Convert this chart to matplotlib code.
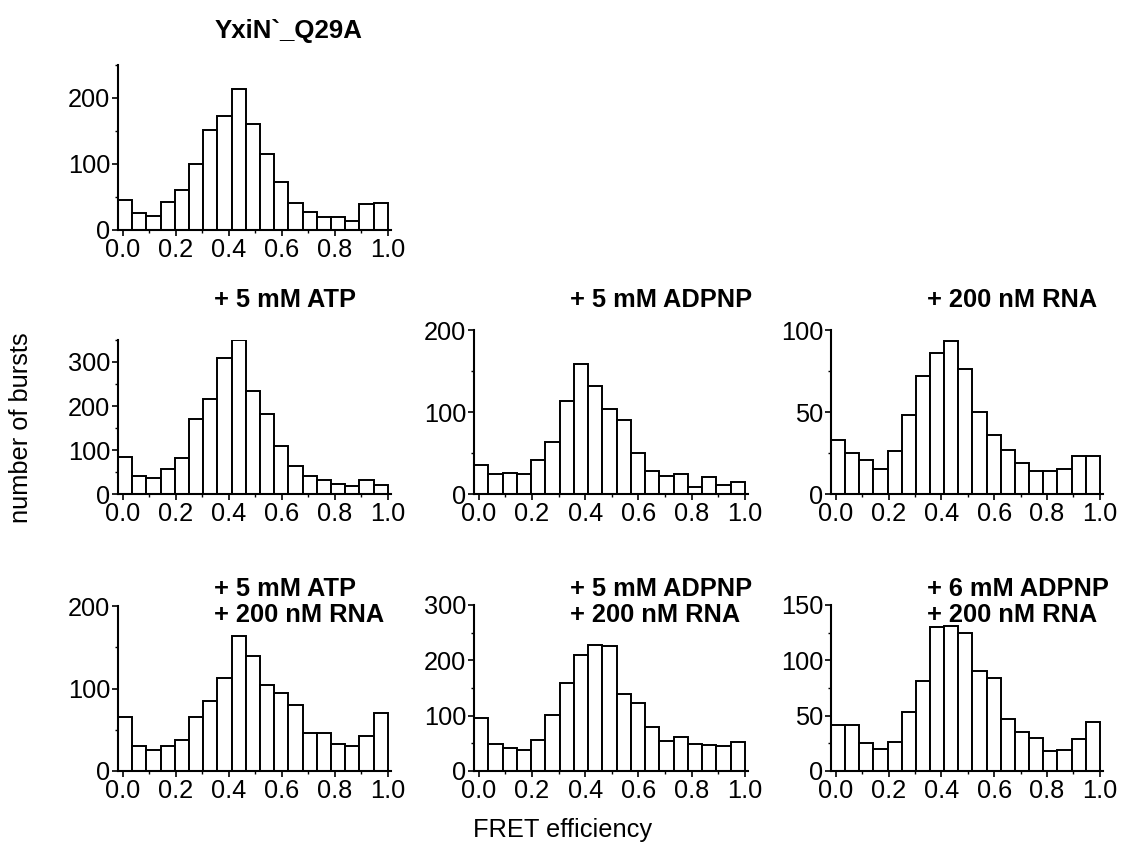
import numpy as np
import matplotlib
matplotlib.use("Agg")
import matplotlib.pyplot as plt

plt.rcParams['font.family'] = ['Liberation Sans', 'DejaVu Sans']

# ---------------- data ----------------
n_bins = 19
bin_lo, bin_hi = -0.018, 1.0

titles = ["YxiN`_Q29A", "+ 5 mM ATP", "+ 5 mM ADPNP", "+ 200 nM RNA",
          "+ 5 mM ATP\n+ 200 nM RNA", "+ 5 mM ADPNP\n+ 200 nM RNA",
          "+ 6 mM ADPNP\n+ 200 nM RNA"]

q29a = [45, 26, 21, 43, 61, 100, 151, 172, 214, 161, 115, 73, 41, 27, 20, 20, 14, 40, 41]
atp = [84, 42, 36, 57, 81, 170, 216, 308, 350, 233, 181, 110, 64, 42, 31, 22, 19, 31, 20]
adpnp = [35, 25, 26, 24, 42, 63, 113, 159, 132, 104, 90, 50, 28, 22, 24, 9, 21, 11, 15]
rna = [33, 25, 21, 15, 26, 48, 72, 86, 93, 76, 50, 36, 27, 19, 14, 14, 15, 23, 23]
atp_rna = [66, 30, 26, 30, 38, 66, 85, 113, 164, 139, 104, 94, 80, 46, 46, 33, 30, 42, 70]
adpnp_rna = [96, 48, 41, 38, 56, 102, 159, 210, 228, 226, 140, 122, 80, 55, 61, 48, 47, 45, 52]
adpnp6_rna = [42, 42, 25, 20, 26, 53, 81, 130, 131, 125, 90, 84, 47, 35, 30, 18, 19, 29, 44]

series = [q29a, atp, adpnp, rna, atp_rna, adpnp_rna, adpnp6_rna]
ymax = [250, 350, 200, 100, 200, 300, 150]
ymajor = [100, 100, 100, 50, 100, 100, 50]
xticks = [0.0, 0.2, 0.4, 0.6, 0.8, 1.0]
xtick_labels = ["0.0", "0.2", "0.4", "0.6", "0.8", "1.0"]

# ---------------- layout (pixels) ----------------
W, H = 1123, 849
fig = plt.figure(figsize=(W / 100, H / 100), dpi=100)

# (left, top, right, bottom) in pixels
boxes = [
    (118, 65, 391, 230),
    (118, 340, 391, 494),
    (474, 330, 748, 494),
    (831, 330, 1103, 494),
    (118, 606, 391, 771),
    (474, 605, 748, 771),
    (831, 605, 1103, 771),
]

edges = np.linspace(bin_lo, bin_hi, n_bins + 1)
width = edges[1] - edges[0]
fs = 18.3

for i, (vals, (l, t, r, b)) in enumerate(zip(series, boxes)):
    ax = fig.add_axes([l / W, 1 - b / H, (r - l) / W, (b - t) / H])
    ax.bar(edges[:-1], vals, width=width, align='edge', color='white',
           edgecolor='black', linewidth=1.4)
    ax.set_xlim(bin_lo, 1.012)
    ax.set_ylim(0, ymax[i])
    for s in ['top', 'right']:
        ax.spines[s].set_visible(False)
    for s in ['left', 'bottom']:
        ax.spines[s].set_linewidth(1.5)
    ax.set_xticks(xticks)
    ax.set_xticklabels(xtick_labels)
    ax.set_xticks(np.arange(0.1, 1.0, 0.2), minor=True)
    ax.set_yticks(np.arange(0, ymax[i] + 1, ymajor[i]))
    ax.set_yticks(np.arange(ymajor[i] / 2, ymax[i] + 1, ymajor[i]), minor=True)
    ax.tick_params(axis='both', which='major', direction='out', length=4,
                   width=1.2, labelsize=fs, pad=1.5)
    ax.tick_params(axis='both', which='minor', direction='out', length=2.5,
                   width=1.0)
    ax.patch.set_alpha(0)

    if i == 0:
        fig.text(289 / W, 1 - 31 / H, titles[i], ha='center', va='center',
                 fontsize=18.6, fontweight='bold')
    elif i <= 3:
        fig.text((l + 96) / W, 1 - 300 / H, titles[i], ha='left', va='center',
                 fontsize=fs, fontweight='bold')
    else:
        fig.text((l + 96) / W, 1 - 602 / H, titles[i], ha='left', va='center',
                 fontsize=fs, fontweight='bold', linespacing=1.15)

fig.text(21 / W, 1 - 428 / H, "number of bursts", rotation=90,
         ha='center', va='center', fontsize=fs)
fig.text(563 / W, 1 - 830 / H, "FRET efficiency", ha='center', va='center',
         fontsize=fs)

fig.savefig("out.png", dpi=100, facecolor='white')
